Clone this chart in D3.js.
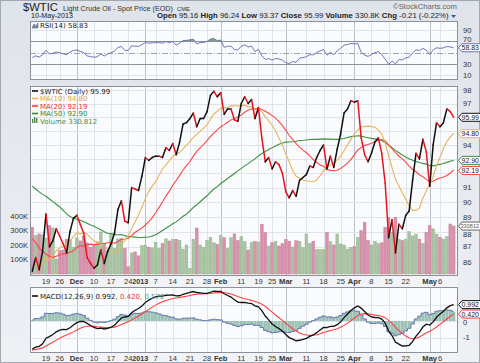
<!DOCTYPE html>
<html><head><meta charset="utf-8">
<script src="https://cdn.jsdelivr.net/npm/d3@7"></script>
<style>body{margin:0;background:#fff}svg{display:block}</style>
</head><body><svg id="c" width="480" height="363"></svg>
<script>
// ---------------- DATA ----------------
const dates = [
"2012-11-13","2012-11-14","2012-11-15","2012-11-16","2012-11-19","2012-11-20","2012-11-21","2012-11-23","2012-11-26","2012-11-27","2012-11-28","2012-11-29","2012-11-30",
"2012-12-03","2012-12-04","2012-12-05","2012-12-06","2012-12-07","2012-12-10","2012-12-11","2012-12-12","2012-12-13","2012-12-14","2012-12-17","2012-12-18","2012-12-19","2012-12-20","2012-12-21","2012-12-24","2012-12-26","2012-12-27","2012-12-28","2012-12-31",
"2013-01-02","2013-01-03","2013-01-04","2013-01-07","2013-01-08","2013-01-09","2013-01-10","2013-01-11","2013-01-14","2013-01-15","2013-01-16","2013-01-17","2013-01-18","2013-01-21","2013-01-22","2013-01-23","2013-01-24","2013-01-25","2013-01-28","2013-01-29","2013-01-30","2013-01-31",
"2013-02-01","2013-02-04","2013-02-05","2013-02-06","2013-02-07","2013-02-08","2013-02-11","2013-02-12","2013-02-13","2013-02-14","2013-02-15","2013-02-19","2013-02-20","2013-02-21","2013-02-22","2013-02-25","2013-02-26","2013-02-27","2013-02-28",
"2013-03-01","2013-03-04","2013-03-05","2013-03-06","2013-03-07","2013-03-08","2013-03-11","2013-03-12","2013-03-13","2013-03-14","2013-03-15","2013-03-18","2013-03-19","2013-03-20","2013-03-21","2013-03-22","2013-03-25","2013-03-26","2013-03-27","2013-03-28",
"2013-04-01","2013-04-02","2013-04-03","2013-04-04","2013-04-05","2013-04-08","2013-04-09","2013-04-10","2013-04-11","2013-04-12","2013-04-15","2013-04-16","2013-04-17","2013-04-18","2013-04-19","2013-04-22","2013-04-23","2013-04-24","2013-04-25","2013-04-26","2013-04-29","2013-04-30",
"2013-05-01","2013-05-02","2013-05-03","2013-05-06","2013-05-07","2013-05-08","2013-05-09","2013-05-10"];

const closes = [
85.4,86.3,85.5,86.7,89.2,87.0,87.4,88.2,87.7,87.2,86.6,88.0,88.9,
89.1,88.5,87.9,86.3,85.9,85.6,85.8,86.8,85.9,86.7,87.2,87.9,89.5,90.1,88.7,88.6,91.0,90.9,90.8,91.8,
93.1,92.9,93.1,93.2,93.2,93.1,93.8,93.6,94.1,93.3,94.2,95.5,95.6,95.9,96.3,95.3,95.9,95.9,96.4,97.6,97.9,97.5,
97.8,96.2,96.6,96.6,95.8,95.7,97.0,97.5,97.0,97.3,95.9,96.7,94.5,92.8,93.1,92.3,92.8,92.6,92.0,
90.7,90.3,90.8,90.4,91.5,91.7,91.9,92.5,92.4,93.1,93.6,94.0,92.3,93.2,92.4,93.7,94.8,96.3,96.6,97.2,
97.1,97.2,94.5,93.3,92.8,93.4,94.2,94.5,93.4,91.3,87.6,88.8,86.6,88.5,88.2,89.1,89.4,91.5,93.4,93.0,94.4,93.5,
91.1,94.0,95.6,95.3,95.6,96.6,96.4,95.99];

// volume in thousands
const volumes = [
322,265,276,270,245,334,318,104,160,165,240,235,185,
250,228,262,215,182,200,222,290,212,160,280,175,242,245,175,50,145,152,125,195,
200,185,180,218,175,212,242,228,238,240,232,172,200,38,240,317,200,184,232,253,215,205,
265,250,176,250,276,230,257,223,166,216,223,220,343,285,193,216,223,193,210,
237,226,186,230,226,181,276,210,226,168,168,168,285,223,200,276,207,200,172,184,
190,253,299,357,230,200,225,210,215,322,391,288,391,240,230,240,292,262,275,240,210,288,
334,311,275,253,241,258,345,331];

// estimated closes before the visible window (indicator warm-up)
const priorCloses = [
96.0,96.9,97.3,97.0,96.2,95.5,96.3,95.5,94.6,96.5,
95.3,95.4,95.5,96.4,96.5,97.2,97.0,98.3,99.0,96.6,
95.3,92.0,91.9,92.9,91.9,91.4,90.0,91.9,92.2,92.5,
91.9,88.1,91.7,89.9,89.3,92.4,91.3,92.1,91.9,91.9,
92.1,92.1,92.1,90.1,88.7,86.7,85.7,86.1,86.3,86.2,
87.1,84.9,85.7,88.7,84.4,85.1,86.1,85.6];

const xTickDates = ["2012-11-19","2012-11-26","2012-12-03","2012-12-10","2012-12-17","2012-12-24","2013-01-02","2013-01-07","2013-01-14","2013-01-21","2013-01-28","2013-02-01","2013-02-11","2013-02-19","2013-02-25","2013-03-01","2013-03-11","2013-03-18","2013-03-25","2013-04-01","2013-04-08","2013-04-15","2013-04-22","2013-05-01","2013-05-06"];
const xTickLabels = ["19","26","Dec","10","17","24","2013","7","14","21","28","Feb","11","19","25","Mar","11","18","25","Apr","8","15","22","May","6"];
const monthLabels = ["Dec","2013","Feb","Mar","Apr","May"];

const priceTicks = [86,87,88,89,90,91,92,93,94,95,96,97,98];
const volTicks = [100,200,300,400];
const volTickLabels = ["100K","200K","300K","400K"];
const rsiTicks = [90,70,50,30,10];
const macdTicks = [0,-1];

const headerStats = [["Open","95.16"],["High","96.24"],["Low","93.37"],["Close","95.99"],["Volume","330.8K"],["Chg","-0.21 (-0.22%)"]];
const lastClose = 95.99, lastMA10 = 94.80, lastMA20 = 92.19, lastMA50 = 92.90, lastVol = 330.812;
const lastRSI = 58.83, lastMACD = 0.992, lastSignal = 0.420, lastHist = 0.572;

// ---------------- INDICATORS ----------------
const all = priorCloses.concat(closes);
const off = priorCloses.length;
const sma = n => closes.map((c,i)=>{const j=i+off; return d3.mean(all.slice(j-n+1,j+1));});
const ma10 = sma(10), ma20 = sma(20), ma50 = sma(50);
function ema(arr,n){const k=2/(n+1);const out=new Array(arr.length).fill(null);let e=d3.mean(arr.slice(0,n));out[n-1]=e;for(let i=n;i<arr.length;i++){e=arr[i]*k+e*(1-k);out[i]=e;}return out;}
const e12=ema(all,12), e26=ema(all,26);
const macdAll = all.map((v,i)=> i<25?null:e12[i]-e26[i]);
const sigPart = ema(macdAll.slice(25),9);
const signalAll = macdAll.map((v,i)=> i<25?null:sigPart[i-25]);
const macd = closes.map((c,i)=>macdAll[i+off]);
const signal = closes.map((c,i)=>signalAll[i+off]);
const hist = macd.map((m,i)=>m-signal[i]);
const rsiAll = new Array(all.length).fill(null);
{let ag=0,al=0;for(let i=1;i<=14;i++){const d=all[i]-all[i-1];if(d>0)ag+=d;else al-=d;}ag/=14;al/=14;rsiAll[14]=100-100/(1+ag/al);
 for(let i=15;i<all.length;i++){const d=all[i]-all[i-1];ag=(ag*13+Math.max(d,0))/14;al=(al*13+Math.max(-d,0))/14;rsiAll[i]=al===0?100:100-100/(1+ag/al);}}
const rsi = closes.map((c,i)=>rsiAll[i+off]);
const prevClose = i => all[i+off-1];

// ---------------- LAYOUT ----------------
const W=480,H=363,L=30,R=458;
const RSI=[21,80], PR=[86,276], MC=[287,353];
const fA="Liberation Sans, Arial, sans-serif", fL="DejaVu Sans, Verdana, sans-serif";
const svg=d3.select("#c");
const defs=svg.append("defs");
const bg=defs.append("linearGradient").attr("id","bg").attr("x1",0).attr("y1",0).attr("x2",0).attr("y2",1);
bg.append("stop").attr("offset","0%").attr("stop-color","#dfe3ea");
bg.append("stop").attr("offset","100%").attr("stop-color","#eef0f4");
svg.append("rect").attr("width",W).attr("height",H).attr("fill","url(#bg)");
svg.append("rect").attr("x",0.5).attr("y",0.5).attr("width",W-1).attr("height",H-1).attr("fill","none").attr("stroke","#a3a8b3");

function clip(id,y0,y1){defs.append("clipPath").attr("id",id).append("rect").attr("x",L).attr("y",y0).attr("width",R-L).attr("height",y1-y0);}
clip("cr",RSI[0],RSI[1]);clip("cp",PR[0],PR[1]);clip("cm",MC[0],MC[1]);

const x=d3.scalePoint().domain(dates).range([32.3,453.7]);
const yR=d3.scaleLinear().domain([0,100]).range([80.8,24.6]);
const yP=d3.scaleLog().domain([86,98]).range([262,90]);
const yV=d3.scaleLinear().domain([0,400]).range([274,216]);
const yM=d3.scaleLinear().domain([-2,2]).range([354,288]);

svg.append("rect").attr("x",L).attr("y",PR[1]).attr("width",R-L).attr("height",MC[0]-PR[1]).attr("fill","#f2f3f6");
svg.append("rect").attr("x",L).attr("y",MC[1]).attr("width",R-L).attr("height",H-1-MC[1]).attr("fill","#f2f3f6");

function panel(y0,y1){
  svg.append("rect").attr("x",L+0.5).attr("y",y0+0.5).attr("width",R-L-1).attr("height",y1-y0-1).attr("fill","#fafbfd");
  const g=svg.append("g");
  xTickDates.forEach((d,k)=>{
    const isM=monthLabels.includes(xTickLabels[k]);
    g.append("line").attr("x1",Math.round(x(d))+0.5).attr("x2",Math.round(x(d))+0.5).attr("y1",y0).attr("y2",y1)
     .attr("stroke",isM?"#b9bdc8":"#e0e3ea").attr("stroke-width",1);
  });
  return g;
}
function border(y0,y1){svg.append("rect").attr("x",L+0.5).attr("y",y0+0.5).attr("width",R-L-1).attr("height",y1-y0-1).attr("fill","none").attr("stroke","#8d909c");}
function hgrid(g,ys,col){ys.forEach(y=>g.append("line").attr("x1",L).attr("x2",R).attr("y1",Math.round(y)+0.5).attr("y2",Math.round(y)+0.5).attr("stroke",col||"#e0e3ea"));}
function tag(y,txt,stroke,col,fs,tx){
  const g=svg.append("g");
  g.append("path").attr("d",`M${R+0.5},${y} L${R+4},${y-4} L${W+3},${y-4} L${W+3},${y+4} L${R+4},${y+4} Z`)
   .attr("fill","#fff").attr("stroke",stroke).attr("stroke-width",1);
  g.append("text").attr("x",tx||R+3.5).attr("y",y).attr("dy","0.35em").attr("font-family",fA).attr("font-size",fs||7).attr("fill",col||"#222").text(txt);
}
function rightLabels(vals,scale,tagVals){vals.forEach(v=>{let y=scale(v);
  if(tagVals){const near=tagVals.map(s=>scale(s)).filter(ty=>Math.abs(ty-y)<8.5);
    if(near.some(ty=>Math.abs(ty-y)<5))return;
    near.forEach(ty=>{y= y>ty? ty+8.5 : ty-8.5;});}
  svg.append("text").attr("x",R+5).attr("y",y).attr("dy","0.35em").attr("font-family",fA).attr("font-size",7.6).attr("fill","#333").text(v);});}

// ---------------- RSI PANEL ----------------
{
  const g=panel(RSI[0],RSI[1]);
  hgrid(g,[yR(90),yR(10)]);
  g.append("line").attr("x1",L).attr("x2",R).attr("y1",Math.round(yR(70))+0.5).attr("y2",Math.round(yR(70))+0.5).attr("stroke","#8e919c");
  g.append("line").attr("x1",L).attr("x2",R).attr("y1",Math.round(yR(30))+0.5).attr("y2",Math.round(yR(30))+0.5).attr("stroke","#8e919c");
  g.append("line").attr("x1",L).attr("x2",R).attr("y1",Math.round(yR(50))+0.5).attr("y2",Math.round(yR(50))+0.5).attr("stroke","#a0a3ad").attr("stroke-dasharray","6,2,1,2");
  defs.append("clipPath").attr("id","above70").append("rect").attr("x",L).attr("y",RSI[0]).attr("width",R-L).attr("height",yR(70)-RSI[0]);
  defs.append("clipPath").attr("id","below30").append("rect").attr("x",L).attr("y",yR(30)).attr("width",R-L).attr("height",RSI[1]-yR(30));
  const ar=d3.area().x((d,i)=>x(dates[i])).y1(d=>yR(d));
  svg.append("path").datum(rsi).attr("clip-path","url(#above70)").attr("fill","#79a48a").attr("d",ar.y0(yR(70)));
  svg.append("path").datum(rsi).attr("clip-path","url(#below30)").attr("fill","#d995ad").attr("d",ar.y0(yR(30)));
  svg.append("path").datum(rsi).attr("clip-path","url(#cr)").attr("fill","none").attr("stroke","#6e75b8").attr("stroke-width",1)
     .attr("d",d3.line().x((d,i)=>x(dates[i])).y(d=>yR(d)));
  border(RSI[0],RSI[1]);
  rightLabels(rsiTicks,yR,[lastRSI]);
  tag(yR(lastRSI),lastRSI.toFixed(2),"#6e75b8");
  svg.append("path").attr("d","M32,28 L34,24 L36,26 L38,23 L38,28 Z").attr("fill","#6e9a88").attr("stroke","#5a62a8").attr("stroke-width",0.6);
  svg.append("text").attr("x",40).attr("y",27.5).attr("font-family",fL).attr("font-size",7).attr("fill","#222").text("RSI(14) "+lastRSI.toFixed(2));
}

// ---------------- PRICE PANEL ----------------
{
  const g=panel(PR[0],PR[1]);
  hgrid(g,priceTicks.map(yP));
  const cg=svg.append("g").attr("clip-path","url(#cp)");
  cg.selectAll("rect.v").data(volumes).join("rect")
    .attr("x",(d,i)=>x(dates[i])-1.35).attr("width",2.7)
    .attr("y",d=>yV(d)).attr("height",d=>yV(0)-yV(d))
    .attr("fill",(d,i)=>closes[i]>=prevClose(i)?"#a9c3a3":"#d892ac")
    .attr("stroke",(d,i)=>closes[i]>=prevClose(i)?"#93b38c":"#c77897").attr("stroke-width",0.5);
  const ln=d3.line().x((d,i)=>x(dates[i])).y(d=>yP(d));
  cg.append("path").datum(ma50).attr("fill","none").attr("stroke","#3b9140").attr("stroke-width",1.1).attr("d",ln);
  cg.append("path").datum(ma20).attr("fill","none").attr("stroke","#ff4545").attr("stroke-width",1.1).attr("d",ln);
  cg.append("path").datum(ma10).attr("fill","none").attr("stroke","#e9b35a").attr("stroke-width",1.1).attr("d",ln);
  for(let i=1;i<closes.length;i++){
    cg.append("line").attr("x1",x(dates[i-1])).attr("y1",yP(closes[i-1])).attr("x2",x(dates[i])).attr("y2",yP(closes[i]))
      .attr("stroke",closes[i]>=closes[i-1]?"#111":"#e8141c").attr("stroke-width",1.5).attr("stroke-linecap","round");
  }
  border(PR[0],PR[1]);
  const volTagPrice = yP.invert(yV(lastVol));
  rightLabels(priceTicks,yP,[lastClose,lastMA10,lastMA20,lastMA50,volTagPrice]);
  volTicks.forEach((v,k)=>svg.append("text").attr("x",28).attr("y",yV(v)).attr("dy","0.35em").attr("text-anchor","end")
     .attr("font-family",fA).attr("font-size",7.6).attr("fill","#333").text(volTickLabels[k]));
  tag(yV(lastVol),"330812","#666","#555",5.6,R+2.5);
  tag(yP(lastMA20),lastMA20.toFixed(2),"#ff4545");
  tag(yP(lastMA50),lastMA50.toFixed(2),"#3b9140");
  tag(yP(lastMA10),lastMA10.toFixed(2),"#e9b35a");
  tag(yP(lastClose),lastClose.toFixed(2),"#111");
  const leg=[["$WTIC (Daily) "+lastClose.toFixed(2),"#111","#222"],["MA(10) "+lastMA10.toFixed(2),"#e9b35a","#e0a43e"],
             ["MA(20) "+lastMA20.toFixed(2),"#ff3b3b","#f03030"],["MA(50) "+lastMA50.toFixed(2),"#2f8a35","#2f8a35"]];
  leg.forEach((l,k)=>{const y=91+k*7.5;
    svg.append("line").attr("x1",32).attr("x2",38).attr("y1",y).attr("y2",y).attr("stroke",l[1]).attr("stroke-width",1.6);
    svg.append("text").attr("x",40).attr("y",y+2.5).attr("font-family",fL).attr("font-size",7).attr("fill",l[2]).text(l[0]);});
  [0,2,4].forEach((dx,k)=>svg.append("rect").attr("x",32+dx).attr("y",121-[2,4,3][k]).attr("width",1.4).attr("height",[2,4,3][k]+2).attr("fill","#4c8a4c"));
  svg.append("text").attr("x",40).attr("y",123.5).attr("font-family",fL).attr("font-size",7).attr("fill","#4c8a4c").text("Volume 330,812");
}

// ---------------- MACD PANEL ----------------
{
  const g=panel(MC[0],MC[1]);
  hgrid(g,[yM(1),yM(0),yM(-1)]);
  const cg=svg.append("g").attr("clip-path","url(#cm)");
  cg.selectAll("rect.h").data(hist).join("rect")
    .attr("x",(d,i)=>x(dates[i])-1.6).attr("width",3.2)
    .attr("y",d=>Math.min(yM(d),yM(0))).attr("height",d=>Math.abs(yM(d)-yM(0)))
    .attr("fill","#9cc2b6");
  cg.append("path").datum(hist).attr("fill","none").attr("stroke","#5d6cae").attr("stroke-width",0.9)
    .attr("d",d3.line().curve(d3.curveStep).x((d,i)=>x(dates[i])).y(d=>yM(d)));
  const ln=d3.line().x((d,i)=>x(dates[i])).y(d=>yM(d));
  cg.append("path").datum(signal).attr("fill","none").attr("stroke","#ff4040").attr("stroke-width",1.1).attr("d",ln);
  cg.append("path").datum(macd).attr("fill","none").attr("stroke","#111").attr("stroke-width",1.3).attr("d",ln);
  border(MC[0],MC[1]);
  rightLabels(macdTicks,yM,[lastMACD,lastSignal]);
  tag(yM(lastSignal),lastSignal.toFixed(3),"#ff4040");
  tag(yM(lastMACD),lastMACD.toFixed(3),"#111");
  svg.append("line").attr("x1",32).attr("x2",38).attr("y1",296).attr("y2",296).attr("stroke","#111").attr("stroke-width",1.6);
  const t=svg.append("text").attr("x",40).attr("y",298.5).attr("font-family",fL).attr("font-size",7);
  t.append("tspan").attr("fill","#222").text("MACD(12,26,9) "+lastMACD.toFixed(3)+", ");
  t.append("tspan").attr("fill","#f03030").text(lastSignal.toFixed(3)+", ");
  t.append("tspan").attr("fill","#4f9c8c").text(lastHist.toFixed(3));
}

// ---------------- X LABELS ----------------
[283.5,361].forEach(yb=>{
  xTickDates.forEach((d,k)=>{
    const lab=xTickLabels[k], isM=monthLabels.includes(lab);
    svg.append("text").attr("x",x(d)+(lab==="2013"?-5:0)).attr("y",yb).attr("text-anchor","middle")
      .attr("font-family",fA).attr("font-size",lab==="2013"?7.2:7.6).attr("font-weight",isM?"bold":"normal").attr("fill","#333").text(lab);
  });
});

// ---------------- HEADER ----------------
function fit(sel,w){const n=sel.node();const fs=+sel.attr("font-size");const m=n.getComputedTextLength();if(m>0)sel.attr("font-size",fs*w/m);}
fit(svg.append("text").attr("x",23).attr("y",11).attr("font-family",fA).attr("font-size",11).attr("fill","#222").text("$WTIC"),35);
fit(svg.append("text").attr("x",63).attr("y",10.5).attr("font-family",fA).attr("font-size",8).attr("fill","#333").text("Light Crude Oil - Spot Price (EOD)"),110);
fit(svg.append("text").attr("x",177).attr("y",10.5).attr("font-family",fA).attr("font-size",6.5).attr("fill","#333").text("CME"),13);
fit(svg.append("text").attr("x",31).attr("y",18).attr("font-family",fA).attr("font-size",7.5).attr("fill","#222").text("10-May-2013"),42);
{
  const t=svg.append("text").attr("x",157).attr("y",18).attr("font-family",fA).attr("font-size",7.8).attr("fill","#222");
  headerStats.forEach((s,k)=>{t.append("tspan").attr("font-weight","bold").text((k?"  ":"")+s[0]+" ");t.append("tspan").text(s[1]);});
  fit(t,292);
  svg.append("path").attr("d","M451,15 L456,15 L453.5,18 Z").attr("fill","#3355aa");
}
fit(svg.append("text").attr("x",393).attr("y",9).attr("font-family",fA).attr("font-size",7.5).attr("fill","#666").text("©StockCharts.com"),64);
</script></body></html>
